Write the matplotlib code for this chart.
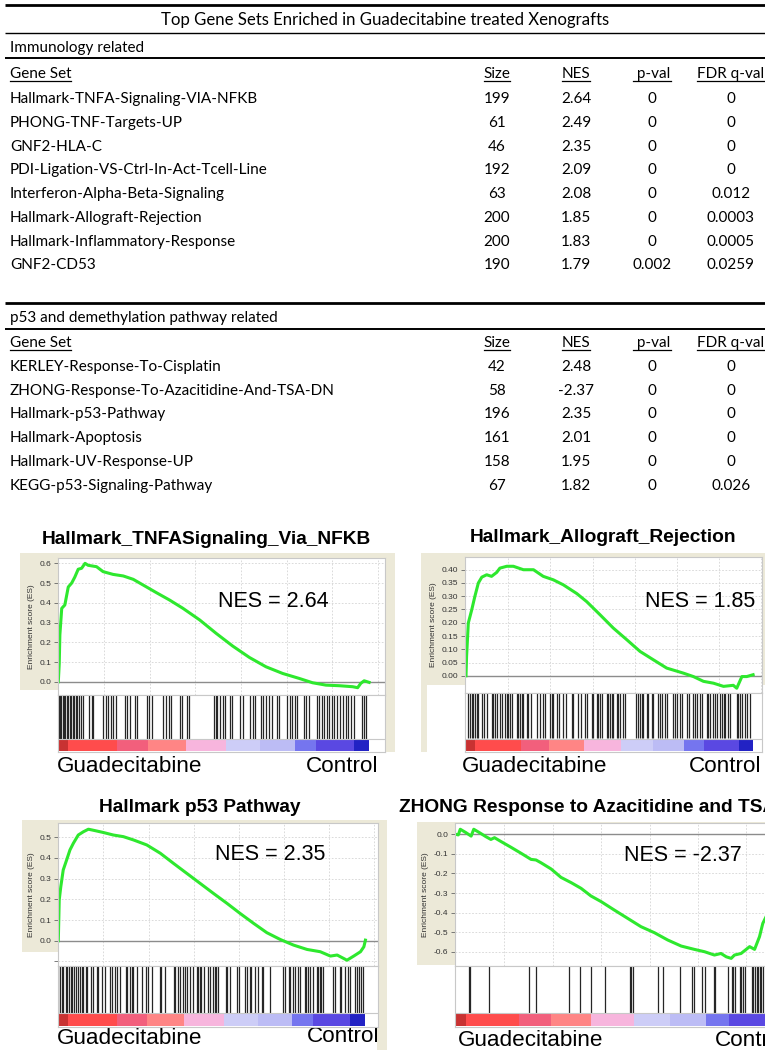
import matplotlib
matplotlib.use('Agg')
import matplotlib.pyplot as plt
import numpy as np

W, H = 765, 1050

# ---------------- table data ----------------
table_title = 'Top Gene Sets Enriched in Guadecitabine treated Xenografts'
header = ['Gene Set', 'Size', 'NES', ' p-val', 'FDR q-val']

immuno_label = 'Immunology related'
immuno_sets = ['Hallmark-TNFA-Signaling-VIA-NFKB', 'PHONG-TNF-Targets-UP', 'GNF2-HLA-C',
               'PDI-Ligation-VS-Ctrl-In-Act-Tcell-Line', 'Interferon-Alpha-Beta-Signaling',
               'Hallmark-Allograft-Rejection', 'Hallmark-Inflammatory-Response', 'GNF2-CD53']
immuno_size = [199, 61, 46, 192, 63, 200, 200, 190]
immuno_nes = [2.64, 2.49, 2.35, 2.09, 2.08, 1.85, 1.83, 1.79]
immuno_pval = [0, 0, 0, 0, 0, 0, 0, 0.002]
immuno_fdr = [0, 0, 0, 0, 0.012, 0.0003, 0.0005, 0.0259]

p53_label = 'p53 and demethylation pathway related'
p53_sets = ['KERLEY-Response-To-Cisplatin', 'ZHONG-Response-To-Azacitidine-And-TSA-DN',
            'Hallmark-p53-Pathway', 'Hallmark-Apoptosis', 'Hallmark-UV-Response-UP',
            'KEGG-p53-Signaling-Pathway']
p53_size = [42, 58, 196, 161, 158, 67]
p53_nes = [2.48, -2.37, 2.35, 2.01, 1.95, 1.82]
p53_pval = [0, 0, 0, 0, 0, 0]
p53_fdr = [0, 0, 0, 0, 0, 0.026]

# ---------------- GSEA panels (x = position in ranked list, %) ----------------
tnfa_title = 'Hallmark_TNFASignaling_Via_NFKB'
tnfa_nes = 'NES = 2.64'
tnfa_x = [0, 0.3, 0.5, 1.1, 2.1, 3.2, 4.3, 5.3, 6.4, 7.5, 8.6, 9.6, 12.3, 14.4, 17.6, 20.9,
          24.1, 27.3, 31.6, 35.8, 40.1, 45.5, 50.8, 56.1, 61.5, 66.8, 72.2, 77.5, 81.8,
          86.1, 90.4, 94.7, 96.3, 97.3, 98.4, 100]
tnfa_es = [0, 0.093, 0.237, 0.372, 0.389, 0.48, 0.50, 0.53, 0.57, 0.575, 0.60, 0.59, 0.583,
           0.558, 0.544, 0.536, 0.519, 0.49, 0.451, 0.414, 0.372, 0.313, 0.245, 0.181, 0.123,
           0.076, 0.042, 0.017, -0.005, -0.017, -0.02, -0.025, -0.03, -0.008, 0.005, -0.003]
tnfa_hits = [0.2, 0.6, 1.0, 1.4, 1.8, 2.3, 2.7, 3.2, 3.6, 4.1, 4.6, 5.1, 5.6, 6.1, 6.6, 7.2,
             7.8, 10.0, 10.7, 11.3, 14.5, 15.3, 16.1, 16.8, 17.7, 18.5, 21.5, 22.2, 23.1,
             24.7, 25.4, 28.4, 29.2, 30.0, 33.8, 34.7, 35.5, 36.2, 39.2, 39.8, 41.3, 42.2,
             50.2, 50.6, 51.2, 52.0, 52.9, 53.6, 55.3, 55.8, 58.5, 59.3, 61.7, 62.6, 63.2,
             65.2, 66.0, 66.8, 67.7, 68.7, 70.3, 70.9, 73.5, 74.4, 75.1, 76.2, 76.9, 78.9,
             79.7, 80.6, 83.2, 84.0, 84.8, 85.5, 86.4, 87.2, 88.1, 88.8, 89.8, 90.5, 91.7,
             92.6, 93.3, 94.2, 95.2, 97.6, 98.4, 99.0]

allo_title = 'Hallmark_Allograft_Rejection'
allo_nes = 'NES = 1.85'
allo_x = [0, 0.2, 0.8, 1.4, 2.0, 3.1, 4.3, 5.5, 7.2, 8.9, 10.7, 11.8, 14.2, 16.5, 20.0, 23.5,
          26.9, 30.4, 33.9, 38.6, 42.0, 46.7, 51.3, 56.0, 60.6, 65.3, 69.9, 75.7, 79.2,
          82.7, 86.2, 89.7, 93.1, 94.3, 96.1, 97.8, 100]
allo_es = [0, 0.073, 0.199, 0.224, 0.249, 0.30, 0.35, 0.372, 0.381, 0.375, 0.39, 0.406, 0.413,
           0.413, 0.40, 0.40, 0.375, 0.362, 0.343, 0.31, 0.28, 0.23, 0.18, 0.136, 0.092,
           0.06, 0.029, 0.01, -0.003, -0.021, -0.028, -0.04, -0.036, -0.047, -0.003, -0.003,
           0.004]
allo_hits = [0.8, 1.4, 2.0, 2.6, 3.1, 3.7, 4.3, 5.5, 6.3, 7.2, 8.9, 9.5, 10.1, 10.9, 11.8,
             12.4, 13.6, 14.2, 14.8, 15.3, 15.9, 17.7, 18.2, 18.8, 19.4, 20.0, 21.1, 21.7,
             22.5, 24.6, 25.6, 26.9, 27.5, 29.3, 29.8, 30.4, 31.6, 32.5, 33.9, 34.8, 36.8,
             37.4, 39.1, 40.0, 41.5, 42.3, 43.8, 44.4, 45.5, 46.1, 46.7, 47.3, 49.0, 49.6,
             50.2, 50.8, 51.3, 52.5, 53.1, 53.7, 54.8, 55.4, 59.2, 60.0, 60.6, 61.2, 61.8,
             63.0, 63.5, 64.7, 65.3, 67.0, 67.6, 68.2, 69.3, 69.9, 72.2, 72.8, 73.4, 74.6,
             75.1, 76.9, 77.5, 79.2, 79.8, 80.4, 81.5, 82.1, 83.9, 84.4, 85.0, 86.2, 86.8,
             87.3, 88.5, 89.1, 89.7, 90.2, 91.4, 92.0, 94.3, 94.9, 95.5, 96.1, 97.2, 97.8,
             99.0]

p53_title = 'Hallmark p53 Pathway'
p53_nes_txt = 'NES = 2.35'
p53_x = [0, 0.3, 0.8, 1.6, 2.7, 3.8, 4.9, 6.5, 8.2, 9.8, 12.0, 14.7, 17.9, 21.2, 24.5, 28.8,
         33.2, 37.5, 41.8, 46.2, 50.5, 54.9, 59.2, 63.6, 67.9, 72.3, 76.6, 81.0, 85.3, 88.6,
         90.8, 94.0, 96.2, 98.4, 99.5, 100]
p53_es = [0, 0.197, 0.26, 0.342, 0.39, 0.439, 0.471, 0.511, 0.527, 0.539, 0.532, 0.523,
          0.511, 0.503, 0.487, 0.463, 0.423, 0.374, 0.326, 0.277, 0.229, 0.181, 0.132, 0.084,
          0.039, 0.006, -0.021, -0.042, -0.053, -0.074, -0.069, -0.094, -0.074, -0.053,
          -0.029, 0.003]
p53_hits = [0, 0.5, 1.1, 1.6, 2.5, 2.9, 3.5, 4.0, 4.6, 5.1, 5.7, 6.5, 7.0, 7.6, 8.1, 9.0,
            9.4, 10.8, 11.4, 12.5, 13.0, 14.1, 15.2, 16.8, 17.4, 18.4, 19.0, 20.1, 22.0,
            22.5, 23.3, 23.9, 24.4, 25.5, 27.1, 28.7, 29.3, 30.4, 33.1, 33.6, 34.7, 37.6,
            38.1, 39.0, 39.6, 40.7, 41.2, 41.8, 42.8, 43.7, 45.0, 45.6, 46.1, 46.6, 47.4,
            48.8, 49.3, 50.4, 51.0, 51.5, 52.1, 54.6, 55.0, 55.9, 58.2, 58.7, 60.7, 61.3,
            62.4, 62.9, 64.0, 65.1, 66.2, 66.7, 68.9, 73.2, 73.8, 75.2, 75.6, 76.5, 77.0,
            78.1, 78.6, 80.3, 80.8, 81.3, 81.9, 83.0, 84.1, 84.6, 85.1, 85.7, 86.2, 89.5,
            90.0, 91.6, 92.2, 93.3, 94.4, 94.9, 96.5, 97.1, 97.9, 98.7, 99.2]

zhong_title = 'ZHONG Response to Azacitidine and TSA DN'
zhong_nes = 'NES = -2.37'
zhong_x = [0, 0.7, 1.3, 3.0, 4.6, 5.4, 7.1, 9.1, 10.6, 11.7, 13.7, 16.7, 19.8, 22.8, 24.3,
           25.8, 28.9, 31.9, 35.0, 38.0, 41.0, 44.1, 48.1, 52.2, 56.2, 60.3, 64.3, 68.4,
           72.4, 75.5, 78.5, 80.5, 82.1, 83.6, 84.6, 86.6, 89.2, 90.7, 92.2, 93.2, 94.2,
           95.7, 97.8, 99.8]
zhong_es = [0, -0.003, 0.026, 0.009, -0.009, 0.026, 0.009, -0.012, -0.026, -0.017, -0.037,
            -0.066, -0.097, -0.128, -0.131, -0.145, -0.177, -0.22, -0.247, -0.276, -0.315,
            -0.344, -0.387, -0.43, -0.472, -0.503, -0.54, -0.571, -0.588, -0.60, -0.617,
            -0.609, -0.626, -0.634, -0.617, -0.609, -0.574, -0.588, -0.523, -0.455, -0.421,
            -0.37, -0.285, -0.11]
zhong_hits = [3.9, 4.4, 9.9, 22.2, 24.4, 34.2, 37.6, 40.9, 45.4, 52.8, 53.3, 53.8, 61.4, 62.9,
              68.0, 71.8, 72.3, 74.6, 75.6, 78.3, 78.8, 82.5, 83.7, 84.2, 84.7, 86.2, 86.7,
              87.2, 87.7, 89.8, 90.3, 90.8, 91.3, 91.8, 92.3, 92.8, 93.3, 95.0, 96.0, 97.0,
              98.0, 99.0]

# colour bar of the ranked list metric (red = Guadecitabine, blue = Control)
bar_edges = [0, 3, 19, 29, 41, 54, 65, 76, 83, 95, 100]
bar_colors = ['#c83232', '#ff4c4c', '#f25f7c', '#ff8585', '#f7b5dd', '#cdcdf7', '#bcbcf5',
              '#7575ef', '#5a48e2', '#2222c4']

BEIGE = '#ece9d8'
TFONT = 'Lato'
AFONT = 'Liberation Sans'

fig = plt.figure(figsize=(W / 100, H / 100), dpi=100)
bg = fig.add_axes([0, 0, 1, 1])
bg.set_xlim(0, W)
bg.set_ylim(H, 0)
bg.axis('off')


def px_axes(x0, y0, x1, y1):
    return fig.add_axes([x0 / W, 1 - y1 / H, (x1 - x0) / W, (y1 - y0) / H])


# ---------------- table ----------------
col_x = [10, 497, 576, 652, 731]
fs = 11
underlined = []


def hline(y, lw):
    bg.plot([5, W], [y, y], color='black', lw=lw, solid_capstyle='butt')


def block(y_label, label, y_head, row_y, sets, size, nes, pval, fdr):
    bg.text(10, y_label, label, fontsize=fs, family=TFONT, va='center')
    for j, h in enumerate(header):
        t = bg.text(col_x[j], y_head, h, fontsize=fs, family=TFONT, va='center',
                    ha='left' if j == 0 else 'center')
        underlined.append((t, y_head))
    for i, y in enumerate(row_y):
        bg.text(col_x[0], y, sets[i], fontsize=fs, family=TFONT, va='center')
        bg.text(col_x[1], y, str(size[i]), fontsize=fs, family=TFONT, va='center', ha='center')
        bg.text(col_x[2], y, f'{nes[i]:.2f}', fontsize=fs, family=TFONT, va='center', ha='center')
        bg.text(col_x[3], y, f'{pval[i]:g}', fontsize=fs, family=TFONT, va='center', ha='center')
        bg.text(col_x[4], y, f'{fdr[i]:g}', fontsize=fs, family=TFONT, va='center', ha='center')


hline(5, 2)
bg.text(385, 20, table_title, fontsize=12.1, family=TFONT, va='center', ha='center')
hline(33, 1)
block(48, immuno_label, 74, [99, 123, 147, 170, 194, 218, 242, 265],
      immuno_sets, immuno_size, immuno_nes, immuno_pval, immuno_fdr)
hline(58, 1.4)
hline(303, 2)
block(318, p53_label, 343, [367, 391, 414, 438, 462, 486],
      p53_sets, p53_size, p53_nes, p53_pval, p53_fdr)
hline(329, 1.4)

# ---------------- GSEA panels ----------------
panels = [
    dict(title=tnfa_title, nes=tnfa_nes, x=tnfa_x, es=tnfa_es, hits=tnfa_hits,
         beige=[(20, 553, 395, 690), (385, 553, 395, 752)],
         es_box=(58, 558, 385, 695), hit_box=(58, 695, 385, 752), xlim=(-0.1, 105.1),
         ylim=(-0.067, 0.627), yticks=np.arange(0, 0.61, 0.1), fmt='{:.1f}', hide=[],
         title_xy=(206, 539, 'center'), nes_xy=(0.657, 0.686),
         guad=(57, 766), ctrl=(378, 766, 'right')),
    dict(title=allo_title, nes=allo_nes, x=allo_x, es=allo_es, hits=allo_hits,
         beige=[(421, 553, 765, 685), (421, 553, 427, 752)],
         es_box=(465, 557, 762, 693), hit_box=(465, 693, 762, 752), xlim=(-0.35, 103.1),
         ylim=(-0.065, 0.448), yticks=np.arange(0, 0.41, 0.05), fmt='{:.2f}', hide=[],
         title_xy=(603, 537, 'center'), nes_xy=(0.791, 0.676),
         guad=(462, 767), ctrl=(761, 767, 'right')),
    dict(title=p53_title, nes=p53_nes_txt, x=p53_x, es=p53_es, hits=p53_hits,
         beige=[(22, 820, 387, 952), (377, 820, 387, 1050)],
         es_box=(58, 823, 378, 966), hit_box=(58, 966, 378, 1027), xlim=(-0.1, 104.1),
         ylim=(-0.122, 0.569), yticks=np.arange(-0.1, 0.51, 0.1), fmt='{:.1f}', hide=[0],
         title_xy=(200, 807, 'center'), nes_xy=(0.663, 0.783),
         guad=(57, 1038), ctrl=(379, 1037, 'right')),
    dict(title=zhong_title, nes=zhong_nes, x=zhong_x, es=zhong_es, hits=zhong_hits,
         beige=[(417, 822, 765, 965)],
         es_box=(455, 823, 800, 966), hit_box=(455, 966, 800, 1027), xlim=(-0.3, 104.5),
         ylim=(-0.673, 0.058), yticks=np.arange(-0.6, 0.01, 0.1), fmt='{:.1f}', hide=[],
         title_xy=(399, 807, 'left'), nes_xy=(0.661, 0.77),
         guad=(458, 1040), ctrl=(715, 1040, 'left')),
]

for p in panels:
    for (x0, y0, x1, y1) in p['beige']:
        bg.add_patch(plt.Rectangle((x0, y0), x1 - x0, y1 - y0, color=BEIGE, lw=0, zorder=0))
    tx, ty, tha = p['title_xy']
    bg.text(tx, ty, p['title'], fontsize=13.8, family=AFONT, weight='bold', ha=tha, va='center')
    bg.text(p['guad'][0], p['guad'][1], 'Guadecitabine', fontsize=16.2, family=AFONT,
            ha='left', va='center')
    bg.text(p['ctrl'][0], p['ctrl'][1], 'Control', fontsize=16.2, family=AFONT,
            ha=p['ctrl'][2], va='center')

    # running enrichment score
    ax = px_axes(*p['es_box'])
    ax.set_facecolor('white')
    ax.set_xlim(*p['xlim'])
    ax.set_ylim(*p['ylim'])
    ax.set_xticks(np.arange(14.7, 105, 14.7))
    ax.set_yticks(p['yticks'])
    labels = [p['fmt'].format(v) for v in p['yticks']]
    labels = ['' if i in p['hide'] else l.replace('-0.00', '0.00').replace('-0.0', '0.0')
              if abs(p['yticks'][i]) < 1e-9 else l for i, l in enumerate(labels)]
    ax.set_yticklabels(labels, fontsize=6, family=AFONT, color='#333333')
    ax.tick_params(axis='x', length=0, labelbottom=False)
    ax.tick_params(axis='y', length=3, width=0.6, color='#666666', pad=2)
    ax.grid(True, color='#d4d4d4', lw=0.6, ls=(0, (2, 2)))
    ax.set_axisbelow(True)
    for s in ax.spines.values():
        s.set_color('#c8c8c8')
        s.set_linewidth(0.8)
    ax.axhline(0, color='#8c8c8c', lw=1)
    ax.plot(p['x'], p['es'], color='#2ee82e', lw=2.2, solid_joinstyle='round')
    ax.set_ylabel('Enrichment score (ES)', fontsize=6, family=AFONT, color='#333333',
                  labelpad=3)
    ax.text(p['nes_xy'][0], p['nes_xy'][1], p['nes'], transform=ax.transAxes, fontsize=15.5,
            family=AFONT, ha='center', va='center')

    # hits and ranked list colour bar
    hx = px_axes(*p['hit_box'])
    hx.set_xlim(*p['xlim'])
    hx.set_ylim(0, 1)
    hx.set_xticks([])
    hx.set_yticks([])
    for s in hx.spines.values():
        s.set_color('#c8c8c8')
        s.set_linewidth(0.8)
    hx.vlines(p['hits'], 0.23, 1, color='#262626', lw=0.9)
    for k in range(len(bar_colors)):
        hx.axvspan(bar_edges[k], bar_edges[k + 1], ymin=0.02, ymax=0.22, color=bar_colors[k],
                   lw=0)
    hx.axhline(0.225, color='#c8c8c8', lw=0.8)

fig.canvas.draw()
renderer = fig.canvas.get_renderer()
for t, y in underlined:
    bb = t.get_window_extent(renderer)
    bg.plot([bb.x0, bb.x1], [y + 6.5, y + 6.5], color='black', lw=0.9)

fig.savefig('out.png', dpi=100)
